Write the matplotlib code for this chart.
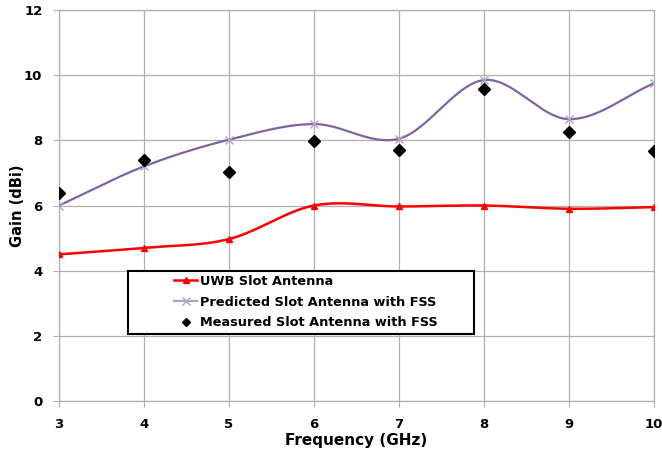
import numpy as np
import matplotlib
matplotlib.use("Agg")
import matplotlib.pyplot as plt
from matplotlib.patches import Rectangle

freq = [3, 4, 5, 6, 7, 8, 9, 10]
uwb = [4.50, 4.70, 4.97, 6.00, 5.97, 6.00, 5.90, 5.95]
predicted = [6.00, 7.20, 8.02, 8.50, 8.05, 9.85, 8.65, 9.75]
measured = [6.37, 7.40, 7.02, 7.98, 7.70, 9.58, 8.25, 7.68]
xticks = [3, 4, 5, 6, 7, 8, 9, 10]
yticks = [0, 2, 4, 6, 8, 10, 12]


def smooth(x, y, n=40):
    """Catmull-Rom style smoothing similar to spreadsheet smoothed lines."""
    x = np.asarray(x, float)
    y = np.asarray(y, float)
    px = np.concatenate([[2 * x[0] - x[1]], x, [2 * x[-1] - x[-2]]])
    py = np.concatenate([[2 * y[0] - y[1]], y, [2 * y[-1] - y[-2]]])
    xs, ys = [], []
    t = np.linspace(0, 1, n)
    for i in range(1, len(px) - 2):
        for arr, out in ((px, xs), (py, ys)):
            p0, p1, p2, p3 = arr[i - 1], arr[i], arr[i + 1], arr[i + 2]
            seg = 0.5 * ((2 * p1) + (-p0 + p2) * t + (2 * p0 - 5 * p1 + 4 * p2 - p3) * t ** 2
                         + (-p0 + 3 * p1 - 3 * p2 + p3) * t ** 3)
            out.extend(seg)
    return np.array(xs), np.array(ys)


plt.rcParams['font.family'] = ['DejaVu Sans']
fig = plt.figure(figsize=(6.62, 4.55), dpi=100)
ax = fig.add_axes([59 / 662, 1 - 401 / 455, (654 - 59) / 662, (401 - 10) / 455])

red = '#ff0000'
purple = '#8064a2'
lpurple = '#b3a2c7'

sx, sy = smooth(freq, uwb)
ax.plot(sx, sy, color=red, lw=1.8, zorder=3)
ax.plot(freq, uwb, ls='none', marker='^', ms=5, color=red, zorder=4)
l1, = ax.plot([], [], color=red, lw=1.8, marker='^', ms=5)

sx, sy = smooth(freq, predicted)
ax.plot(sx, sy, color=purple, lw=1.6, zorder=3)
ax.plot(freq, predicted, ls='none', marker='x', ms=6, mew=1.0, color=lpurple, zorder=4)
l2, = ax.plot([], [], color=lpurple, lw=1.6, marker='x', ms=6, mec=lpurple)

ax.plot(freq, measured, ls='none', marker='D', ms=6, color='black', zorder=5)
l3, = ax.plot([], [], ls='none', marker='D', ms=4, color='black')

ax.set_xlim(3, 10)
ax.set_ylim(0, 12)
ax.set_xticks(xticks)
ax.set_yticks(yticks)
ax.grid(True, color='#b0b0b0', lw=0.9)
ax.set_axisbelow(True)
for s in ax.spines.values():
    s.set_color('#b0b0b0')
    s.set_linewidth(0.9)
ax.tick_params(axis='both', colors='#b0b0b0', length=4, labelcolor='black', labelsize=9.5)
for lab in ax.get_xticklabels() + ax.get_yticklabels():
    lab.set_fontweight('bold')
ax.tick_params(axis='x', pad=8)
ax.tick_params(axis='y', pad=8)
ax.set_xlabel('Frequency (GHz)', fontsize=11, fontweight='bold', labelpad=2)
ax.set_ylabel('Gain (dBi)', fontsize=10.5, fontweight='bold')
ax.yaxis.set_label_coords(-0.057, 0.5)

# legend frame
ax.add_patch(Rectangle(((128 - 59) / 595, (401 - 334) / 391), 346 / 595, 63 / 391,
                       transform=ax.transAxes, facecolor='white', edgecolor='black',
                       lw=1.5, zorder=6))
leg = ax.legend(handles=[l1, l2, l3],
                labels=['UWB Slot Antenna', 'Predicted Slot Antenna with FSS',
                        'Measured Slot Antenna with FSS'],
                loc='upper left', bbox_to_anchor=((174 - 59) / 595, (401 - 275) / 391),
                frameon=False, prop={'weight': 'bold', 'size': 9.3},
                handlelength=1.8, borderpad=0, labelspacing=0.6, handletextpad=0.2,
                borderaxespad=0)
leg.set_zorder(7)

fig.savefig('out.png', dpi=100)
